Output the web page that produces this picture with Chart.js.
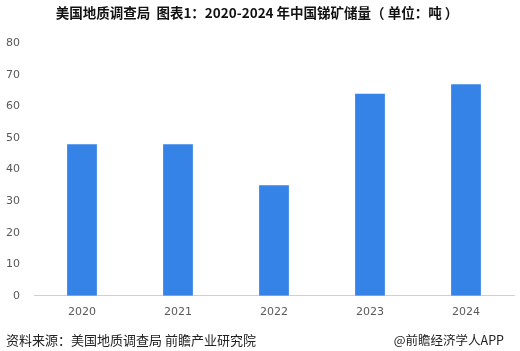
<!DOCTYPE html>
<html>
<head>
<meta charset="utf-8">
<script src="https://cdn.jsdelivr.net/npm/chart.js@4.4.1/dist/chart.umd.min.js"></script>
<style>
  html, body { margin: 0; padding: 0; background: #fff; }
  #wrap { position: relative; width: 520px; height: 351px; }
  #foot-left { position: absolute; left: 6px; top: 330px; font: 13px "Noto Sans CJK SC", sans-serif; color: #222; }
  #foot-right { position: absolute; right: 16px; top: 330px; font: 12.5px "Noto Sans CJK SC", sans-serif; color: #222; }
</style>
</head>
<body>
<div id="wrap">
  <canvas id="myChart" width="520" height="351"></canvas>
  <div id="foot-left">资料来源：美国地质调查局 前瞻产业研究院</div>
  <div id="foot-right">@前瞻经济学人APP</div>
</div>
<script>
var years = ["2020", "2021", "2022", "2023", "2024"];
var reserves = [48, 48, 35, 64, 67];
var yTicks = [0, 10, 20, 30, 40, 50, 60, 70, 80];

var ctx = document.getElementById('myChart').getContext('2d');
var myChart = new Chart(ctx, {
  type: 'bar',
  data: {
    labels: years,
    datasets: [{
      label: '锑矿储量',
      data: reserves,
      backgroundColor: '#3583e6',
      categoryPercentage: 1,
      barPercentage: 0.31
    }]
  },
  options: {
    responsive: false,
    animation: false,
    layout: { padding: { left: 0, right: 6, top: 0, bottom: 22 } },
    plugins: {
      legend: { display: false },
      tooltip: { enabled: false },
      title: {
        display: true,
        text: '美国地质调查局  图表1：2020-2024 年中国锑矿储量（ 单位：吨 ）',
        color: '#111',
        font: { family: '"Noto Sans CJK SC", sans-serif', size: 13.5, weight: 'bold' },
        padding: { top: 5, bottom: 22 }
      }
    },
    scales: {
      x: {
        grid: { display: false, drawTicks: false },
        border: { color: '#d0d0d0' },
        ticks: { color: '#595959', font: { family: '"DejaVu Sans", sans-serif', size: 11 }, padding: 10 }
      },
      y: {
        min: 0,
        max: 80,
        afterBuildTicks: function (axis) { axis.ticks = yTicks.map(function (v) { return { value: v }; }); },
        afterFit: function (axis) { axis.width = 34; },
        grid: { display: false, drawTicks: false },
        border: { display: false },
        ticks: { color: '#595959', font: { family: '"DejaVu Sans", sans-serif', size: 11 }, padding: 14 }
      }
    }
  }
});
</script>
</body>
</html>
